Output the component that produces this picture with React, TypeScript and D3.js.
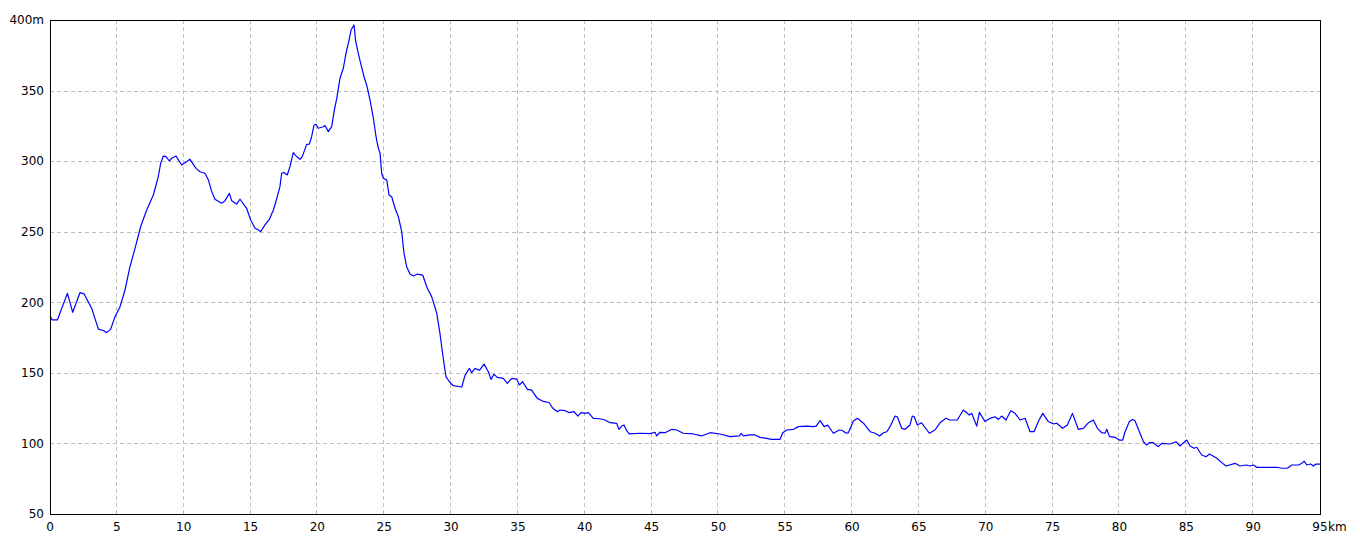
import React from "react";
import * as d3 from "d3";

const distanceKm: number[] = [
  0, 0.17, 0.55, 1.3, 1.7, 2.24, 2.54, 3.12, 3.62, 3.99, 4.24, 4.54, 4.86, 5.24, 5.61, 5.98, 6.36, 6.78, 7.23, 7.73,
  8.1, 8.28, 8.48, 8.68, 8.93, 9.1, 9.43, 9.85, 10.22, 10.47, 10.92, 11.22, 11.59, 11.85, 12.1, 12.34, 12.84, 13.09,
  13.42, 13.59, 13.96, 14.21, 14.71, 15.01, 15.34, 15.59, 15.76, 16.08, 16.41, 16.71, 17.0, 17.2, 17.33, 17.5, 17.75,
  17.95, 18.2, 18.38, 18.7, 18.87, 19.2, 19.4, 19.57, 19.75, 19.9, 20.07, 20.44, 20.57, 20.82, 21.07, 21.27, 21.45,
  21.69, 21.94, 22.14, 22.37, 22.52, 22.74, 22.87, 23.06, 23.24, 23.49, 23.69, 23.94, 24.19, 24.39, 24.56, 24.69,
  24.81, 24.94, 25.19, 25.36, 25.56, 25.81, 26.06, 26.31, 26.48, 26.68, 26.93, 27.18, 27.48, 27.88, 28.22, 28.55,
  28.93, 29.17, 29.3, 29.47, 29.62, 29.87, 30.17, 30.8, 31.04, 31.37, 31.54, 31.79, 32.12, 32.47, 32.79, 32.99, 33.21,
  33.46, 33.91, 34.21, 34.54, 34.91, 35.11, 35.36, 35.71, 36.03, 36.45, 36.85, 37.35, 37.61, 37.95, 38.15, 38.53,
  38.85, 39.2, 39.48, 39.72, 40.02, 40.27, 40.64, 41.14, 41.52, 41.89, 42.39, 42.56, 42.77, 42.94, 43.14, 43.33,
  44.13, 44.88, 45.26, 45.38, 45.63, 46.01, 46.51, 46.88, 47.37, 48.12, 48.75, 49.37, 50.12, 50.87, 51.57, 51.69,
  51.86, 52.36, 52.74, 53.11, 53.61, 53.98, 54.61, 54.81, 55.11, 55.61, 55.98, 56.61, 57.1, 57.31, 57.61, 57.91,
  58.17, 58.6, 59.05, 59.3, 59.55, 59.72, 60.1, 60.4, 60.85, 61.35, 61.72, 62.05, 62.35, 62.6, 62.9, 63.21, 63.38,
  63.71, 63.96, 64.33, 64.5, 64.65, 64.88, 65.2, 65.78, 66.2, 66.57, 67.02, 67.32, 67.87, 68.32, 68.77, 68.95, 69.32,
  69.52, 69.94, 70.32, 70.69, 70.94, 71.19, 71.51, 71.87, 72.19, 72.56, 72.94, 73.31, 73.61, 73.93, 74.26, 74.68,
  75.06, 75.31, 75.75, 76.1, 76.48, 76.92, 77.3, 77.67, 78.05, 78.35, 78.68, 78.92, 79.05, 79.25, 79.67, 79.99, 80.24,
  80.42, 80.74, 80.99, 81.16, 81.49, 81.79, 82.04, 82.23, 82.53, 82.91, 83.16, 83.78, 84.23, 84.53, 84.73, 85.03,
  85.28, 85.58, 85.78, 86.15, 86.48, 86.73, 87.28, 87.65, 87.97, 88.65, 89.02, 89.47, 89.77, 90.02, 90.27, 91.02,
  91.77, 92.14, 92.56, 92.89, 93.39, 93.64, 93.81, 94.01, 94.31, 94.5, 94.7, 95.0,
];

const elevationM: number[] = [
  190, 187.5, 187.5, 206.3, 192.9, 206.8, 206, 195.7, 181, 180, 178.5, 181, 189.8, 196.9, 208.7, 225.2, 238.2, 253.5,
  265.4, 276, 289, 298.5, 303.6, 303.2, 300.1, 302, 303.6, 297.3, 299.6, 301.3, 294.9, 292.5, 291.4, 286.6, 278.4, 273,
  270.1, 272, 277.2, 272, 269.6, 273, 266.6, 258.3, 252.4, 251.2, 250, 254.8, 258.8, 265.4, 274.8, 281.9, 291.4, 292,
  290.2, 296.1, 306, 303.9, 301.3, 303.2, 311.9, 312.1, 317.3, 325.6, 326.1, 323.3, 324.4, 325.2, 320.9, 324.4, 336.2,
  344.5, 358.7, 365.8, 376.4, 385.8, 392.9, 396.5, 384.6, 376.4, 369.3, 359.8, 353.9, 343.3, 330.4, 317.3, 309.1,
  305.6, 291.4, 287.8, 286.6, 276, 274.8, 266.6, 260.6, 250, 234.7, 225.2, 220, 218.6, 220, 219.3, 209.9, 204, 192.2,
  178, 168.5, 156.8, 147.3, 143.7, 140.9, 140, 148, 153.2, 150.1, 153.2, 151.8, 156.2, 150.8, 145.4, 149, 146.8, 146.1,
  142.6, 146.1, 145.6, 141.4, 143.7, 138.3, 137.8, 131.9, 130, 128.8, 124.9, 122.5, 123.7, 123.2, 121.8, 122.5, 119.4,
  121.8, 121.3, 121.8, 117.8, 117.5, 116.6, 114.7, 114.2, 110, 112.3, 113, 109, 106.7, 107.2, 106.9, 107.9, 105.3,
  107.9, 107.6, 110, 109.5, 107.2, 106.7, 105.3, 107.6, 106.7, 104.8, 105.3, 107.2, 105.3, 106, 106, 104.3, 103.6,
  102.9, 102.9, 107.6, 109.5, 110, 111.9, 112.3, 111.9, 112.3, 116.1, 111.9, 113, 107.2, 109.5, 109, 107.2, 107.6,
  115.9, 117.8, 114.3, 108.3, 107.2, 105.3, 107.6, 108.3, 113, 119.4, 118.9, 110.7, 110, 113, 119.4, 118.9, 113, 114.6,
  107.2, 109.5, 114.6, 117.8, 116.6, 116.6, 123.7, 120.1, 121.3, 112.3, 122, 115.5, 117.8, 118.9, 117, 119.4, 116.6,
  123.2, 121.3, 116.6, 117.8, 108.3, 108.3, 115.5, 121.3, 115.5, 113.8, 114.3, 110.7, 113, 121.3, 110, 110.7, 114.6,
  116.6, 110.7, 107.6, 107.2, 110, 104.8, 104.3, 102.4, 102.4, 108.3, 115.5, 117, 116.1, 108.3, 101.2, 98.8, 100.5,
  100.5, 97.7, 100, 99.6, 101.2, 98.2, 100, 102.4, 98.2, 96.6, 97.3, 91.8, 90.6, 92.5, 89.5, 86.4, 84, 85.9, 84, 84.7,
  84, 84.7, 83.1, 83.1, 83.1, 82.4, 82.4, 84.7, 84.7, 85.9, 87.5, 84.7, 85.4, 84, 85.4, 85.4,
];

const xTicks: number[] = [0, 5, 10, 15, 20, 25, 30, 35, 40, 45, 50, 55, 60, 65, 70, 75, 80, 85, 90, 95];
const yTicks: number[] = [50, 100, 150, 200, 250, 300, 350, 400];

const W = 1360;
const H = 544;
const left = 50;
const right = 1320;
const top = 20;
const bottom = 514;
const FONT = "'DejaVu Sans', Verdana, sans-serif";

export default function App() {
  const x = d3.scaleLinear().domain([0, 95]).range([left, right]);
  const y = d3.scaleLinear().domain([50, 400]).range([bottom, top]);
  const pts: [number, number][] = distanceKm.map((d, i) => [d, elevationM[i]]);
  const line = d3
    .line<[number, number]>()
    .x((d) => x(d[0]))
    .y((d) => y(d[1]))
    .curve(d3.curveLinear);

  const px = (v: number) => Math.round(v) + 0.5;

  return (
    <svg
      width={W}
      height={H}
      viewBox={`0 0 ${W} ${H}`}
      style={{ position: "absolute", left: 0, top: 0, display: "block", background: "#fff" }}
    >
      <rect x={0} y={0} width={W} height={H} fill="#ffffff" />
      <g shapeRendering="crispEdges">
        {xTicks
          .filter((t) => t > 0 && t < 95)
          .map((t) => (
            <line
              key={"gx" + t}
              x1={px(x(t)) - 1}
              x2={px(x(t)) - 1}
              y1={top}
              y2={bottom}
              stroke="#bfbfbf"
              strokeDasharray="4,3"
            />
          ))}
        {yTicks
          .filter((t) => t > 50 && t < 400)
          .map((t) => (
            <line
              key={"gy" + t}
              x1={left}
              x2={right}
              y1={px(y(t))}
              y2={px(y(t))}
              stroke="#bfbfbf"
              strokeDasharray="4,3"
            />
          ))}
      </g>
      <path
        d={line(pts) || ""}
        fill="none"
        stroke="#0000ff"
        strokeWidth={1.2}
        strokeLinejoin="round"
      />
      <rect
        x={left + 0.5}
        y={top + 0.5}
        width={right - left}
        height={bottom - top}
        fill="none"
        stroke="#000"
        strokeWidth={1}
        shapeRendering="crispEdges"
      />
      <g fontFamily={FONT} fontSize={12} fill="#000">
        {yTicks.map((t) => (
          <text key={"ly" + t} x={44} y={y(t)} dy="0.36em" textAnchor="end">
            {t === 400 ? `${t}m` : `${t}`}
          </text>
        ))}
        {xTicks.map((t) => (
          <text key={"lx" + t} x={x(t)} y={531} textAnchor="middle">
            {`${t}`}
          </text>
        ))}
        <text x={x(95) + 8} y={531} textAnchor="start">
          km
        </text>
      </g>
    </svg>
  );
}
